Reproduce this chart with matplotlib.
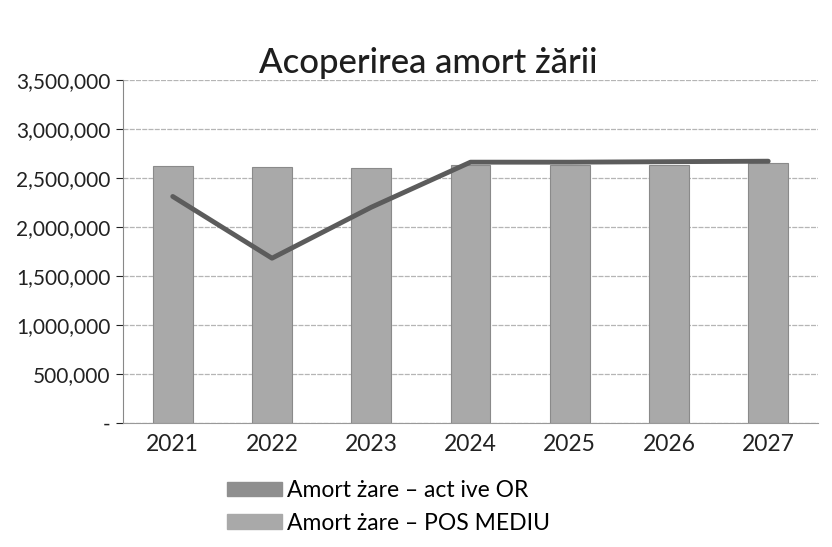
import matplotlib
matplotlib.use("Agg")
import matplotlib.pyplot as plt
from matplotlib.patches import Patch
from matplotlib.ticker import FuncFormatter

years = ["2021", "2022", "2023", "2024", "2025", "2026", "2027"]
pos_mediu = [2620000, 2610000, 2600000, 2630000, 2630000, 2630000, 2650000]
active_or = [2310000, 1680000, 2200000, 2660000, 2660000, 2665000, 2670000]
yticks = [0, 500000, 1000000, 1500000, 2000000, 2500000, 3000000, 3500000]
title = "Acoperirea amort żării"
label_line = "Amort żare – act ive OR"
label_bar = "Amort żare – POS MEDIU"

plt.rcParams['font.family'] = ['Lato', 'DejaVu Sans']

fig = plt.figure(figsize=(8.32, 5.47), dpi=100)
ax = fig.add_axes([0.148, 0.227, 0.835, 0.627])

x = list(range(len(years)))
bar_color = "#a9a9a9"
line_color = "#5c5c5c"
ax.bar(x, pos_mediu, width=0.4, color=bar_color, edgecolor="#8a8a8a", linewidth=0.8, zorder=2)
ax.plot(x, active_or, color=line_color, linewidth=3.5, zorder=3, solid_capstyle="round")

ax.set_xlim(-0.5, len(years) - 0.5)
ax.set_ylim(0, 3500000)
ax.set_yticks(yticks)
ax.yaxis.set_major_formatter(FuncFormatter(lambda v, p: "-" if v == 0 else f"{int(v):,}"))
ax.set_xticks(x)
ax.set_xticklabels(years)
ax.tick_params(axis="y", labelsize=15, colors="#222222", length=5, direction="out", width=0.8, pad=4)
ax.tick_params(axis="x", labelsize=16.5, colors="#222222", length=0, pad=8)
ax.grid(axis="y", color="#b5b5b5", linewidth=0.9, linestyle=(0, (4, 1)), zorder=0)
for s in ["top", "right"]:
    ax.spines[s].set_visible(False)
ax.spines["left"].set_color("#888888")
ax.spines["bottom"].set_color("#999999")

fig.text(0.515, 0.855, title, ha="center", va="bottom", fontsize=25, color="#1e1e1e", fontweight="medium")

handles = [Patch(facecolor="#8f8f8f", edgecolor="#8f8f8f"),
           Patch(facecolor=bar_color, edgecolor=bar_color)]
fig.legend(handles, [label_line, label_bar], loc="upper left", bbox_to_anchor=(0.273, 0.122),
           frameon=False, fontsize=16.5, handlelength=2.4, handleheight=0.6,
           labelspacing=0.5, handletextpad=0.2, borderaxespad=0, borderpad=0)

fig.savefig("out.png", dpi=100)
